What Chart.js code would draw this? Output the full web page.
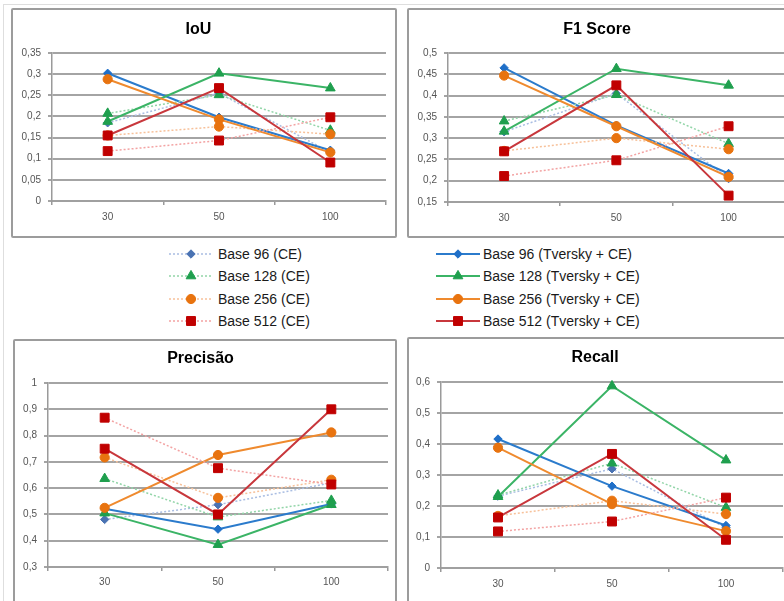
<!DOCTYPE html>
<html><head><meta charset="utf-8">
<script src="https://cdn.jsdelivr.net/npm/chart.js@4/dist/chart.umd.min.js"></script>
<style>
html,body{margin:0;padding:0;background:#fff;}
body{width:784px;height:601px;overflow:hidden;position:relative;font-family:"Liberation Sans",Arial,sans-serif;}
.frame{position:absolute;left:3px;top:4px;width:800px;height:620px;border:1px solid #dedede;}
.panel{position:absolute;border:2px solid #9c9c9c;border-radius:2px;box-sizing:border-box;}
canvas.c{position:absolute;}
.leg{position:absolute;height:22px;white-space:nowrap;}
.leg canvas{position:absolute;left:0;top:0;}
.leg span{position:absolute;top:0;line-height:22px;font-size:14px;color:#1a1a1a;}
</style></head><body>
<div class="frame"></div>
<div class="panel" style="left:11px;top:8px;width:386px;height:230px;"></div>
<div class="panel" style="left:407px;top:8px;width:390px;height:230px;"></div>
<div class="panel" style="left:13px;top:339px;width:384px;height:280px;"></div>
<div class="panel" style="left:407px;top:337px;width:390px;height:280px;"></div>
<canvas class="c" id="cIoU" style="left:11px;top:8px;" width="386" height="230"></canvas>
<canvas class="c" id="cF1" style="left:407px;top:8px;" width="385" height="230"></canvas>
<canvas class="c" id="cPrec" style="left:13px;top:339px;" width="384" height="270"></canvas>
<canvas class="c" id="cRec" style="left:407px;top:337px;" width="385" height="272"></canvas>
<div id="legend"></div>
<script>
// ---------- DATA ----------
const categories = ['30', '50', '100'];
const seriesNames = ['Base 96 (CE)', 'Base 96 (Tversky + CE)', 'Base 128 (CE)', 'Base 128 (Tversky + CE)',
                     'Base 256 (CE)', 'Base 256 (Tversky + CE)', 'Base 512 (CE)', 'Base 512 (Tversky + CE)'];

// IoU
const iouB96CE  = [0.185, 0.255, 0.115];
const iouB96TV  = [0.302, 0.198, 0.120];
const iouB128CE = [0.207, 0.251, 0.167];
const iouB128TV = [0.188, 0.302, 0.267];
const iouB256CE = [0.155, 0.176, 0.158];
const iouB256TV = [0.288, 0.193, 0.115];
const iouB512CE = [0.118, 0.143, 0.198];
const iouB512TV = [0.155, 0.267, 0.091];
const iouTicks  = [0, 0.05, 0.1, 0.15, 0.2, 0.25, 0.3, 0.35];

// F1 Score
const f1B96CE  = [0.315, 0.405, 0.205];
const f1B96TV  = [0.465, 0.330, 0.217];
const f1B128CE = [0.340, 0.402, 0.287];
const f1B128TV = [0.316, 0.463, 0.424];
const f1B256CE = [0.270, 0.300, 0.274];
const f1B256TV = [0.447, 0.328, 0.209];
const f1B512CE = [0.211, 0.248, 0.328];
const f1B512TV = [0.269, 0.424, 0.165];
const f1Ticks  = [0.15, 0.2, 0.25, 0.3, 0.35, 0.4, 0.45, 0.5];

// Precisão
const precB96CE  = [0.481, 0.537, 0.620];
const precB96TV  = [0.522, 0.444, 0.540];
const precB128CE = [0.636, 0.490, 0.553];
const precB128TV = [0.505, 0.385, 0.537];
const precB256CE = [0.717, 0.563, 0.632];
const precB256TV = [0.525, 0.726, 0.812];
const precB512CE = [0.868, 0.676, 0.614];
const precB512TV = [0.750, 0.500, 0.900];
const precTicks  = [0.3, 0.4, 0.5, 0.6, 0.7, 0.8, 0.9, 1];

// Recall
const recB96CE  = [0.232, 0.320, 0.130];
const recB96TV  = [0.416, 0.264, 0.137];
const recB128CE = [0.235, 0.338, 0.195];
const recB128TV = [0.230, 0.587, 0.348];
const recB256CE = [0.168, 0.217, 0.174];
const recB256TV = [0.388, 0.206, 0.119];
const recB512CE = [0.118, 0.150, 0.227];
const recB512TV = [0.163, 0.368, 0.091];
const recTicks  = [0, 0.1, 0.2, 0.3, 0.4, 0.5, 0.6];

// ---------- STYLES ----------
const styles = [
  {dash:[2,2], line:'#a9bde2', pt:'#4a73b3', shape:'rectRot',  r:4.2, w:1.5},
  {dash:[],    line:'#2b7bcc', pt:'#1f6fc8', shape:'rectRot',  r:4.2, w:2},
  {dash:[2,2], line:'#92d5a8', pt:'#1f9f4e', shape:'triangle', r:5.6, w:1.5},
  {dash:[],    line:'#3bb466', pt:'#1f9f4e', shape:'triangle', r:5.6, w:2},
  {dash:[2,2], line:'#f7c19a', pt:'#e8730f', shape:'circle',   r:4.6, w:1.5},
  {dash:[],    line:'#ef8a2e', pt:'#e8730f', shape:'circle',   r:4.6, w:2},
  {dash:[2,2], line:'#f3a3a3', pt:'#c00000', shape:'rect',     r:6.3, w:1.5},
  {dash:[],    line:'#c8373c', pt:'#c00000', shape:'rect',     r:6.3, w:2}
];
const FONT = '"Liberation Sans", Arial, sans-serif';
const fmt = v => String(+Number(v).toFixed(2)).replace('.', ',');

function buildDatasets(seriesList) {
  return seriesList.map((d, i) => {
    const s = styles[i];
    return {
      label: seriesNames[i], data: d, order: 8 - i,
      borderColor: s.line, borderWidth: s.w, borderDash: s.dash,
      backgroundColor: s.pt, pointBackgroundColor: s.pt, pointBorderColor: s.pt,
      pointBorderWidth: 1, pointStyle: s.shape, pointRadius: s.r,
      tension: 0, fill: false, clip: false
    };
  });
}

function makeChart(id, title, seriesList, tickArr, g) {
  const ctx = document.getElementById(id);
  return new Chart(ctx, {
    type: 'line',
    data: { labels: categories, datasets: buildDatasets(seriesList) },
    options: {
      responsive: false, animation: false,
      layout: { padding: { left: 0, right: g.padRight, top: 0, bottom: 0 } },
      plugins: {
        legend: { display: false }, tooltip: { enabled: false },
        title: { display: true, text: title, color: '#000',
                 font: { family: FONT, size: 16, weight: 'bold', lineHeight: 1.2 },
                 padding: { top: g.tTop, bottom: g.tBottom } }
      },
      scales: {
        x: {
          type: 'category', offset: true,
          grid: { display: true, drawOnChartArea: false, drawTicks: true, tickLength: 4, offset: true, color: '#999', lineWidth: 1.5 },
          border: { display: true, color: '#a0a0a0', width: 2 },
          ticks: { font: { family: FONT, size: 10 }, color: '#555', padding: g.xPad, maxRotation: 0, autoSkip: false },
          afterFit: s => { s.height = g.xH; }
        },
        y: {
          min: tickArr[0], max: tickArr[tickArr.length - 1],
          afterBuildTicks: s => { s.ticks = tickArr.map(v => ({ value: v })); },
          grid: { color: '#a4a4a4', lineWidth: 2, tickLength: 4, drawTicks: true },
          border: { display: true, color: '#9a9a9a', width: 1.5 },
          ticks: { font: { family: FONT, size: 10 }, color: '#555', padding: 7, callback: v => fmt(v) },
          afterFit: s => { s.width = g.yW; }
        }
      }
    }
  });
}

makeChart('cIoU', 'IoU',
  [iouB96CE, iouB96TV, iouB128CE, iouB128TV, iouB256CE, iouB256TV, iouB512CE, iouB512TV], iouTicks,
  { yW: 41, padRight: 11, tTop: 12.4, tBottom: 13.4, xH: 37, xPad: 6 });
makeChart('cF1', 'F1 Score',
  [f1B96CE, f1B96TV, f1B128CE, f1B128TV, f1B256CE, f1B256TV, f1B512CE, f1B512TV], f1Ticks,
  { yW: 41, padRight: 5, tTop: 12.4, tBottom: 13.4, xH: 36, xPad: 6 });
makeChart('cPrec', 'Precisão',
  [precB96CE, precB96TV, precB128CE, precB128TV, precB256CE, precB256TV, precB512CE, precB512TV], precTicks,
  { yW: 35, padRight: 9, tTop: 10.4, tBottom: 14.4, xH: 42, xPad: 5 });
makeChart('cRec', 'Recall',
  [recB96CE, recB96TV, recB128CE, recB128TV, recB256CE, recB256TV, recB512CE, recB512TV], recTicks,
  { yW: 34, padRight: 9, tTop: 11.4, tBottom: 14.4, xH: 41, xPad: 6 });

// ---------- LEGEND ----------
(function () {
  const host = document.getElementById('legend');
  const cols = [{ x: 169, textX: 218 }, { x: 436, textX: 483 }];
  for (let i = 0; i < 8; i++) {
    const col = cols[i % 2];
    const row = Math.floor(i / 2);
    const cy = 254 + row * 22.3;
    const s = styles[i];
    const div = document.createElement('div');
    div.className = 'leg';
    div.style.left = col.x + 'px';
    div.style.top = (cy - 11) + 'px';
    const cv = document.createElement('canvas');
    cv.width = 46; cv.height = 22;
    div.appendChild(cv);
    const sp = document.createElement('span');
    sp.textContent = seriesNames[i];
    sp.style.left = (col.textX - col.x) + 'px';
    div.appendChild(sp);
    host.appendChild(div);
    const c = cv.getContext('2d');
    c.strokeStyle = s.line; c.lineWidth = s.w; c.setLineDash(s.dash);
    c.beginPath(); c.moveTo(0, 11); c.lineTo(44, 11); c.stroke();
    c.setLineDash([]);
    c.fillStyle = s.pt; c.strokeStyle = s.pt; c.lineWidth = 1;
    try {
      Chart.helpers.drawPoint(c, { pointStyle: s.shape, radius: s.r, borderWidth: 1, rotation: 0 }, 22, 11);
    } catch (e) {
      c.beginPath(); c.arc(22, 11, s.r, 0, Math.PI * 2); c.fill();
    }
  }
})();
</script>
</body></html>
